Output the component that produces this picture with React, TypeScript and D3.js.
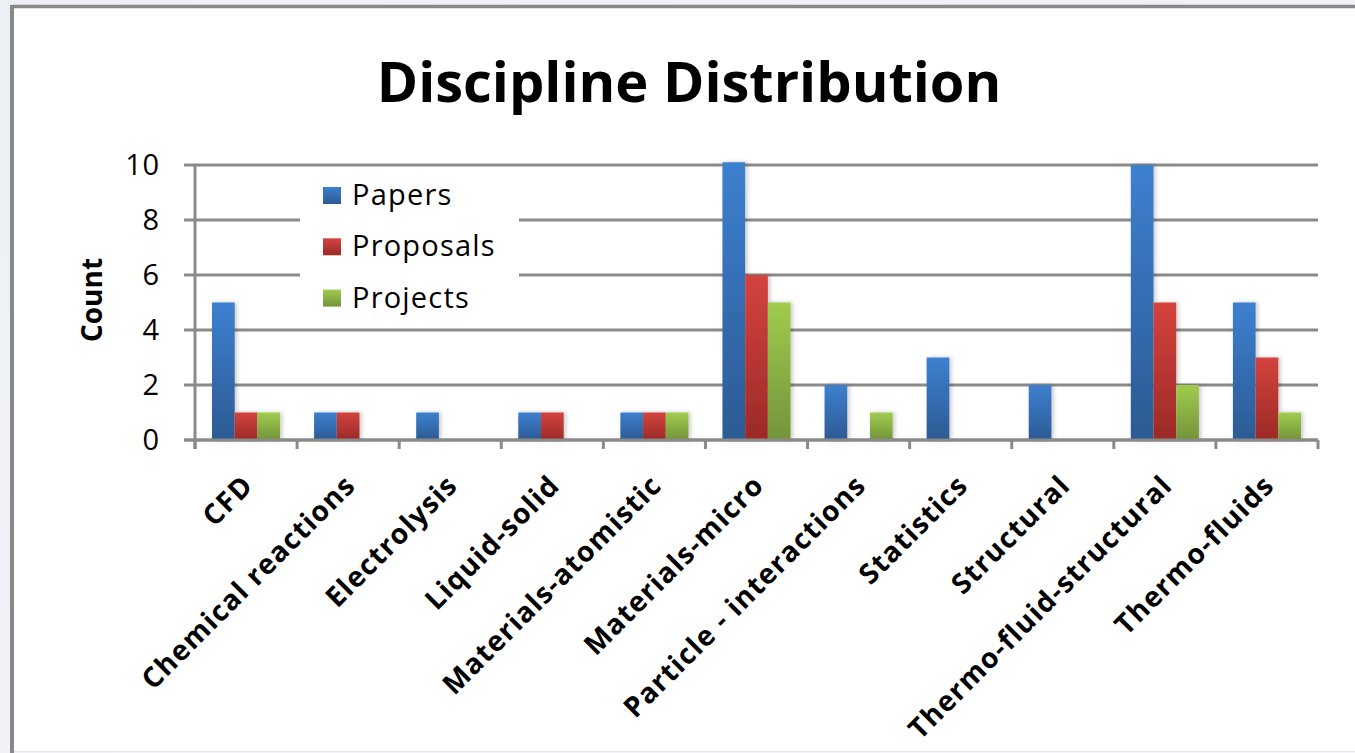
import React from "react";
import * as d3 from "d3";

// Discipline distribution: counts per discipline for three output types
const categories = [
  "CFD",
  "Chemical reactions",
  "Electrolysis",
  "Liquid-solid",
  "Materials-atomistic",
  "Materials-micro",
  "Particle - interactions",
  "Statistics",
  "Structural",
  "Thermo-fluid-structural",
  "Thermo-fluids",
];
const papers = [5, 1, 1, 1, 1, 10.1, 2, 3, 2, 10, 5];
const proposals = [1, 1, 0, 1, 1, 6, 0, 0, 0, 5, 3];
const projects = [1, 0, 0, 0, 1, 5, 1, 0, 0, 2, 1];
const seriesNames = ["Papers", "Proposals", "Projects"];
const yTicks = [0, 2, 4, 6, 8, 10];

const W = 1355;
const H = 753;
const plot = { left: 195, right: 1318, top: 165, bottom: 440 };
const FONT = "'Open Sans', 'Liberation Sans', sans-serif";
const GRID = "#8a8a8a";

const palette = [
  { top: "#3d80d0", bottom: "#2c5a93" },
  { top: "#d4433e", bottom: "#9b2a27" },
  { top: "#9fcc4d", bottom: "#74933a" },
];

export default function App() {
  const values = [papers, proposals, projects];
  const x = d3.scaleBand<string>().domain(categories).range([plot.left, plot.right]).padding(0);
  const groupPad = 17;
  const xs = d3
    .scaleBand<string>()
    .domain(seriesNames)
    .range([groupPad, x.bandwidth() - groupPad])
    .padding(0);
  const y = d3.scaleLinear().domain([0, 10]).range([plot.bottom, plot.top]);

  const boundaries = d3.range(categories.length + 1).map((i) => plot.left + i * x.bandwidth());

  return (
    <svg
      width={W}
      height={H}
      viewBox={`0 0 ${W} ${H}`}
      style={{ position: "absolute", left: 0, top: 0, display: "block" }}
    >
      <defs>
        <linearGradient id="bgGrad" x1="0" y1="0" x2="1" y2="1">
          <stop offset="0" stopColor="#eceff4" />
          <stop offset="1" stopColor="#f5f6f9" />
        </linearGradient>
        {palette.map((c, i) => (
          <linearGradient key={i} id={`barGrad${i}`} x1="0" y1="0" x2="0" y2="1">
            <stop offset="0" stopColor={c.top} />
            <stop offset="1" stopColor={c.bottom} />
          </linearGradient>
        ))}
        <filter id="barShadow" x="-30%" y="-10%" width="160%" height="120%">
          <feDropShadow dx="2" dy="0" stdDeviation="2" floodColor="#000" floodOpacity="0.22" />
        </filter>
      </defs>

      {/* page background and chart frame */}
      <rect x={0} y={0} width={W} height={H} fill="url(#bgGrad)" />
      <rect x={13} y={7} width={W} height={744} fill="#ffffff" />
      <line x1={12} y1={6.5} x2={W} y2={6.5} stroke="#888" strokeWidth={3.5} />
      <line x1={12} y1={5} x2={12} y2={H} stroke="#888" strokeWidth={4} />
      <line x1={14} y1={751.5} x2={W} y2={751.5} stroke="#e4e4e4" strokeWidth={1} />

      {/* title */}
      <text
        x={689}
        y={102}
        textAnchor="middle"
        fontFamily={FONT}
        fontWeight={700}
        fontSize={56}
        fill="#000"
      >
        Discipline Distribution
      </text>

      {/* gridlines */}
      {yTicks.map((t) => (
        <line
          key={t}
          x1={plot.left - 11}
          x2={plot.right}
          y1={y(t)}
          y2={y(t)}
          stroke={GRID}
          strokeWidth={3}
        />
      ))}

      {/* axes */}
      <line x1={plot.left} x2={plot.left} y1={plot.top} y2={plot.bottom + 9} stroke={GRID} strokeWidth={3} />
      {boundaries.map((bx, i) => (
        <line key={i} x1={bx} x2={bx} y1={plot.bottom} y2={plot.bottom + 9} stroke={GRID} strokeWidth={3} />
      ))}

      {/* y tick labels */}
      {yTicks.map((t) => (
        <text
          key={t}
          x={160}
          y={y(t)}
          dy="0.36em"
          textAnchor="end"
          fontFamily={FONT}
          fontSize={29}
          letterSpacing={0.8}
          fill="#000"
        >
          {t}
        </text>
      ))}

      {/* y axis title */}
      <text
        transform={`translate(102,300) rotate(-90)`}
        textAnchor="middle"
        fontFamily={FONT}
        fontWeight={700}
        fontSize={28}
        fill="#000"
      >
        Count
      </text>

      {/* bars */}
      <g filter="url(#barShadow)">
        {categories.map((c, ci) =>
          values.map((vals, si) => {
            const v = vals[ci];
            if (!v) return null;
            const bx = (x(c) as number) + (xs(seriesNames[si]) as number);
            return (
              <rect
                key={`${ci}-${si}`}
                x={bx}
                y={y(v)}
                width={xs.bandwidth()}
                height={y(0) - y(v)}
                fill={`url(#barGrad${si})`}
              />
            );
          })
        )}
      </g>

      {/* x axis line drawn over bar bases */}
      <line x1={plot.left - 11} x2={plot.right} y1={plot.bottom} y2={plot.bottom} stroke={GRID} strokeWidth={3} />

      {/* category labels */}
      {categories.map((c) => {
        const cx = (x(c) as number) + x.bandwidth() / 2;
        return (
          <text
            key={c}
            transform={`translate(${cx + 9},${plot.bottom + 47}) rotate(-45)`}
            textAnchor="end"
            fontFamily={FONT}
            fontWeight={700}
            fontSize={28}
            letterSpacing={1.2}
            fill="#000"
          >
            {c}
          </text>
        );
      })}

      {/* legend */}
      <rect x={300} y={174} width={219} height={146} fill="#ffffff" />
      {seriesNames.map((s, i) => {
        const cy = 195 + i * 51.3;
        return (
          <g key={s}>
            <rect x={323} y={cy - 8} width={18} height={17} fill={`url(#barGrad${i})`} />
            <text
              x={352}
              y={cy + 10}
              fontFamily={FONT}
              fontSize={29}
              letterSpacing={1.2}
              fill="#000"
            >
              {s}
            </text>
          </g>
        );
      })}
    </svg>
  );
}
